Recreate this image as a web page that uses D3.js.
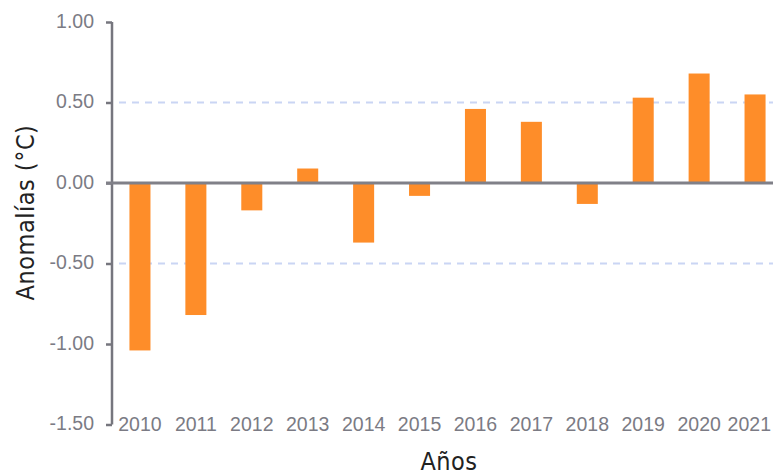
<!DOCTYPE html>
<html>
<head>
<meta charset="utf-8">
<script src="https://cdn.jsdelivr.net/npm/d3@7"></script>
<style>
  body { margin: 0; background: #fff; }
  svg { display: block; }
</style>
</head>
<body>
<div class="chart"></div>
<script>
const years = ["2010", "2011", "2012", "2013", "2014", "2015", "2016", "2017", "2018", "2019", "2020", "2021"];
const anomalies = [-1.04, -0.82, -0.17, 0.09, -0.37, -0.08, 0.46, 0.38, -0.13, 0.53, 0.68, 0.55];
const yTicks = [-1.5, -1.0, -0.5, 0.0, 0.5, 1.0];
const gridValues = [-0.5, 0.5];

const width = 773;
const height = 476;

const svg = d3
  .select(".chart")
  .append("svg")
  .attr("width", width)
  .attr("height", height);

const axisColor = "#76767e";
const labelColor = "#7b7b84";
const labelFont = "'Liberation Sans', Arial, sans-serif";
const titleFont = "'Liberation Sans Narrow', 'Arial Narrow', 'DejaVu Sans Condensed', sans-serif";

const y = d3.scaleLinear().domain([-1.5, 1]).range([424.5, 22]);

const x = d3
  .scaleBand()
  .domain(years)
  .range([112, 783])
  .paddingInner(0.624)
  .paddingOuter(0.312);

// dashed gridlines
svg
  .append("g")
  .selectAll("line")
  .data(gridValues)
  .enter()
  .append("line")
  .attr("x1", 119)
  .attr("x2", width)
  .attr("y1", (d) => y(d))
  .attr("y2", (d) => y(d))
  .attr("stroke", "#cad5f4")
  .attr("stroke-width", 2)
  .attr("stroke-dasharray", "7,6");

// bars
svg
  .append("g")
  .selectAll("rect")
  .data(anomalies)
  .enter()
  .append("rect")
  .attr("x", (d, i) => x(years[i]))
  .attr("width", x.bandwidth())
  .attr("y", (d) => y(Math.max(0, d)))
  .attr("height", (d) => Math.abs(y(d) - y(0)))
  .attr("fill", "#fe8d29");

// y axis
const yAxis = svg
  .append("g")
  .attr("transform", "translate(112,0)")
  .call(
    d3.axisLeft(y)
      .tickValues(yTicks)
      .tickSize(6)
      .tickPadding(12)
      .tickFormat((d) => d3.format(".2f")(d).replace("−", "-"))
  );

yAxis.select(".domain").attr("stroke", axisColor).attr("stroke-width", 2.5)
  .attr("d", `M0,${y(1)}V${y(-1.5)}`);
yAxis.selectAll(".tick line").attr("stroke", axisColor).attr("stroke-width", 2.5);
yAxis
  .selectAll(".tick text")
  .attr("fill", labelColor)
  .style("font-family", labelFont)
  .style("font-size", "19.5px")
  .attr("dy", "0.28em");

// zero line
svg
  .append("line")
  .attr("x1", 106)
  .attr("x2", width)
  .attr("y1", y(0))
  .attr("y2", y(0))
  .attr("stroke", "#808088")
  .attr("stroke-width", 3);

// x labels
const xAxis = svg
  .append("g")
  .attr("transform", `translate(0,${y(-1.5)})`)
  .call(d3.axisBottom(x).tickSize(0).tickPadding(0));

xAxis.select(".domain").remove();
xAxis
  .selectAll(".tick text")
  .attr("fill", labelColor)
  .attr("dy", "6.5px")
  .style("font-family", labelFont)
  .style("font-size", "19.5px")
  .each(function (d) {
    // keep the last label inside the picture
    const cx = x(d) + x.bandwidth() / 2;
    const half = this.getComputedTextLength() / 2;
    const over = cx + half - (width - 2);
    if (over > 0) d3.select(this).attr("dx", -over);
  });

// titles
svg
  .append("text")
  .text("Años")
  .attr("x", 449)
  .attr("y", 470)
  .style("text-anchor", "middle")
  .style("font-family", titleFont)
  .style("font-size", "25px")
  .style("letter-spacing", "0.5px")
  .attr("fill", "#222");

svg
  .append("text")
  .text("Anomalías (°C)")
  .attr("transform", "translate(34,212.5) rotate(-90)")
  .style("text-anchor", "middle")
  .style("font-family", titleFont)
  .style("font-size", "25px")
  .style("letter-spacing", "0.5px")
  .attr("fill", "#222");
</script>
</body>
</html>
